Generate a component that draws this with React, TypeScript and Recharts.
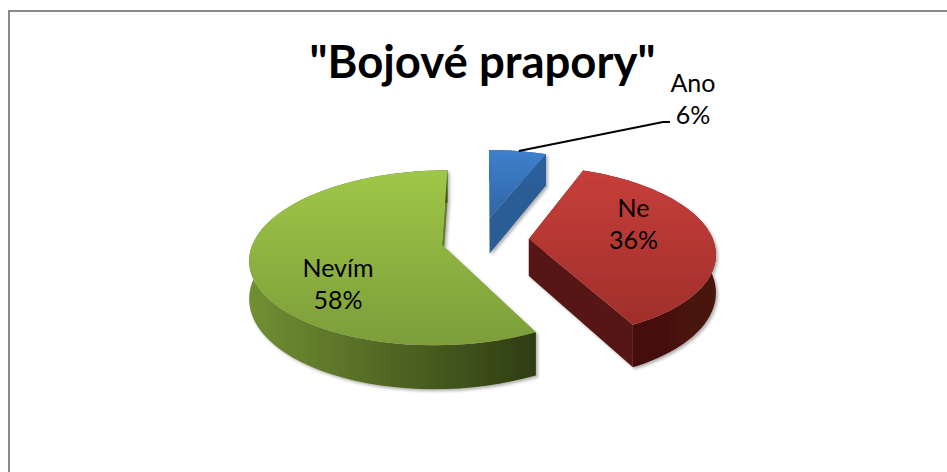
import React from "react";
import { PieChart, Pie, Cell } from "recharts";

const names = ["Ano", "Ne", "Nevím"];
const values = [6, 36.4, 57.6];
const data = names.map((name, i) => ({ name, value: values[i] }));

// plane -> screen perspective for the tilted disc
const TILT = 0.4476;
const PERSP = 0.00079;
const DEPTH = 37;
const EXPLODE = [52, 44, 44];
const NUDGE_X = [-5, 0, 0];
const SCALE_X = [0.97, 0.98, 1];
const LABEL_SHIFT = [
  [0, 0],
  [-1, -12],
  [2, 29],
];

const topColors = [
  ["#3f80cc", "#2f66a6"],
  ["#c63f3a", "#a02e2b"],
  ["#9fc748", "#7c9d39"],
];
const wallColors = [
  ["#2c5f9b", "#2c5f9b"],
  ["#420e0c", "#4a1310"],
  ["#728f33", "#2e3d13"],
];
const cutColors = ["#2b5c96", "#561812", "#66802d"];

type Pt = [number, number];

function project(x: number, y: number, cx: number, cy: number): Pt {
  const g = 1 / (1 - PERSP * y);
  return [cx + x * g, cy + y * TILT * g];
}

function slicePoints(cx: number, cy: number, r: number, start: number, end: number, index: number) {
  const mid = ((start + end) / 2) * (Math.PI / 180);
  const ox = Math.cos(mid) * EXPLODE[index] + NUDGE_X[index];
  const oy = -Math.sin(mid) * EXPLODE[index];
  const arc: Pt[] = [];
  const steps = 60;
  for (let i = 0; i <= steps; i++) {
    const a = ((start + ((end - start) * i) / steps) * Math.PI) / 180;
    arc.push(project(ox + r * SCALE_X[index] * Math.cos(a), oy - r * Math.sin(a), cx, cy));
  }
  return { apex: project(ox, oy, cx, cy), arc };
}

const toPath = (pts: Pt[]) =>
  "M" + pts.map((p) => `${p[0].toFixed(1)},${p[1].toFixed(1)}`).join("L") + "Z";

// wall height grows towards the viewer, same as the disc
const drop = (pts: Pt[], cy: number) =>
  pts.map((p) => [p[0], p[1] + DEPTH * (1 + (PERSP * (p[1] - cy)) / TILT)] as Pt);

function Slice3D(props: any) {
  const { cx, cy, outerRadius, startAngle, endAngle, index } = props;
  const { apex, arc } = slicePoints(cx, cy, outerRadius, startAngle, endAngle, index);
  const first = arc[0];
  const last = arc[arc.length - 1];
  const outline = [apex, ...arc];
  const arcWall = [...arc, ...drop(arc, cy).reverse()];
  return (
    <g filter="url(#softShadow)">
      <path d={toPath([apex, first, ...drop([first, apex], cy)])} fill={cutColors[index]} />
      <path d={toPath([apex, last, ...drop([last, apex], cy)])} fill={cutColors[index]} />
      <path d={toPath(arcWall)} fill={`url(#wall${index})`} />
      <path d={toPath(outline)} fill={`url(#top${index})`} />
    </g>
  );
}

function SliceLabel(props: any) {
  const { cx, cy, outerRadius, startAngle, endAngle, index, name, value } = props;
  const { apex, arc } = slicePoints(cx, cy, outerRadius, startAngle, endAngle, index);
  const mid = arc[30];
  const style = { fontFamily: "Lato", fontSize: 25, fill: "#000" };
  const pct = `${Math.round(value)}%`;
  if (index === 0) {
    const lx = 693;
    return (
      <g>
        <polyline points={`${mid[0] + 1},${mid[1]} 663,122 670,122`} fill="none" stroke="#000" strokeWidth={2} />
        <text x={lx} y={92} textAnchor="middle" {...style}>{name}</text>
        <text x={lx} y={124} textAnchor="middle" {...style}>{pct}</text>
      </g>
    );
  }
  const f = index === 1 ? 0.58 : 0.55;
  const x = apex[0] + (mid[0] - apex[0]) * f + LABEL_SHIFT[index][0];
  const y = apex[1] + (mid[1] - apex[1]) * f + LABEL_SHIFT[index][1];
  return (
    <g>
      <text x={x} y={y - 8} textAnchor="middle" {...style}>{name}</text>
      <text x={x} y={y + 24} textAnchor="middle" {...style}>{pct}</text>
    </g>
  );
}

export default function App() {
  return (
    <div style={{ position: "fixed", left: 0, top: 0, width: 947, height: 472, background: "#fff" }}>
      <PieChart width={947} height={472} margin={{ top: 0, right: 0, bottom: 0, left: 0 }}>
        <defs>
          {topColors.map((c, i) => (
            <linearGradient key={i} id={`top${i}`} x1="0" y1="0" x2="0" y2="1">
              <stop offset="0" stopColor={c[0]} />
              <stop offset="1" stopColor={c[1]} />
            </linearGradient>
          ))}
          {wallColors.map((c, i) => (
            <linearGradient key={i} id={`wall${i}`} x1="0" y1="0" x2="1" y2="0">
              <stop offset="0" stopColor={c[0]} />
              <stop offset="1" stopColor={c[1]} />
            </linearGradient>
          ))}
          <filter id="softShadow" x="-10%" y="-10%" width="120%" height="120%">
            <feDropShadow dx="2" dy="2" stdDeviation="1.5" floodColor="#000" floodOpacity="0.3" />
          </filter>
        </defs>
        <path d="M9,472 L9,11 L947,11" fill="none" stroke="#8a8a8a" strokeWidth={2} />
        <text x={482.5} y={78} textAnchor="middle" fontFamily="Lato" fontWeight={700} fontSize={45.5} fill="#000">
          "Bojové prapory"
        </text>
        <Pie
          data={data}
          dataKey="value"
          nameKey="name"
          cx={485}
          cy={240}
          outerRadius={188}
          startAngle={90}
          endAngle={-270}
          stroke="none"
          isAnimationActive={false}
          shape={Slice3D}
          label={SliceLabel}
          labelLine={false}
        >
          {data.map((d) => (
            <Cell key={d.name} />
          ))}
        </Pie>
      </PieChart>
    </div>
  );
}
